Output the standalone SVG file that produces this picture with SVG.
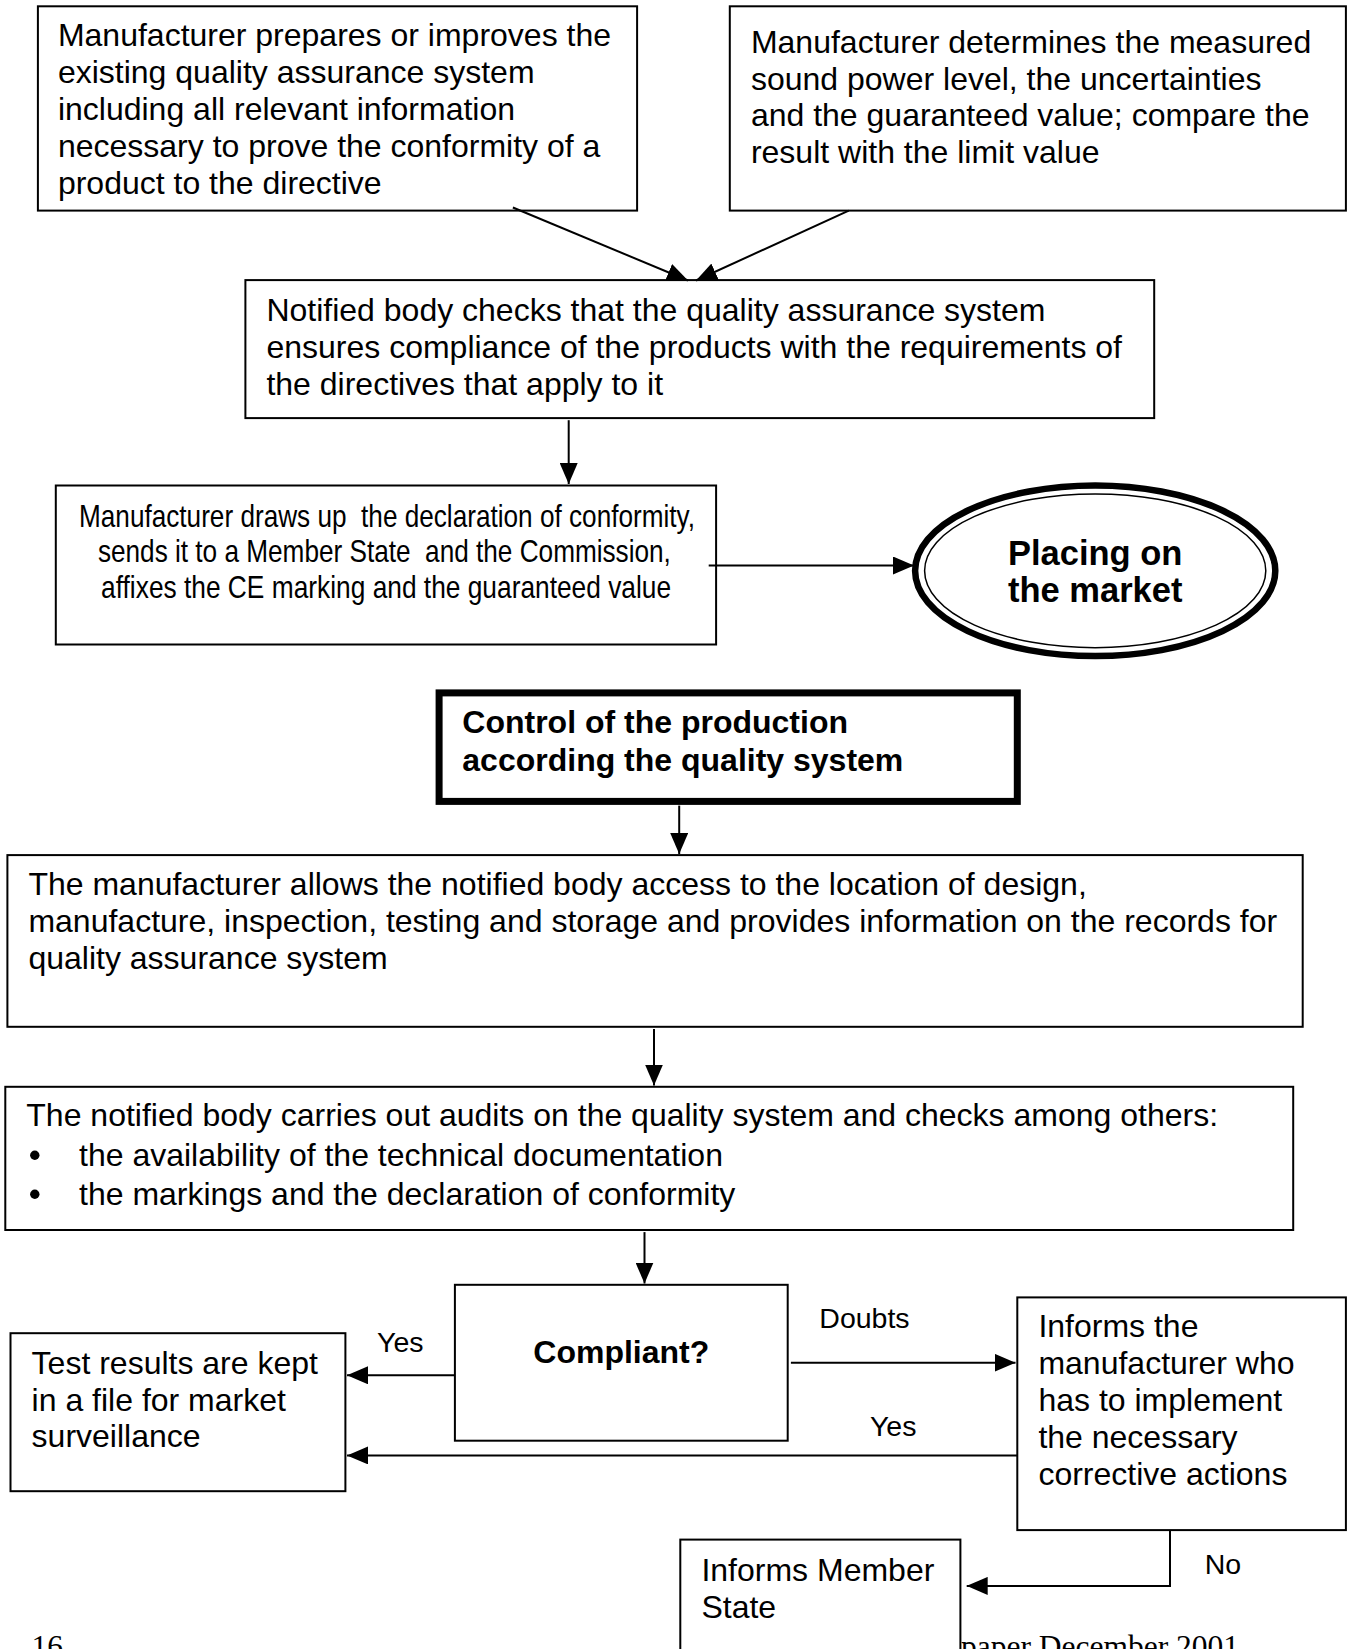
<svg xmlns="http://www.w3.org/2000/svg" width="1348" height="1649" viewBox="0 0 1348 1649">
<style>
.box{fill:#fff;stroke:#000;stroke-width:2}
.t{font-family:"Liberation Sans",Arial,sans-serif;font-size:32px;fill:#000}
.b{font-family:"Liberation Sans",Arial,sans-serif;font-size:32px;font-weight:bold;fill:#000}
.c{font-family:"Liberation Sans",Arial,sans-serif;font-size:31.5px;fill:#000}
.l{font-family:"Liberation Sans",Arial,sans-serif;font-size:28.5px;fill:#000}
.s{font-family:"Liberation Serif","Times New Roman",serif;font-size:31.5px;fill:#000}
.con{stroke:#000;stroke-width:2;fill:none}
</style>
<defs>
<marker id="ah" markerUnits="userSpaceOnUse" markerWidth="21" markerHeight="18" refX="21" refY="9" orient="auto">
<path d="M0,0 L21,9 L0,18 z" fill="#000"/>
</marker>
</defs>
<rect width="1348" height="1649" fill="#fff"/>
<g id="footer">
<text class="s" x="31.6" y="1657">16</text>
<text class="s" x="961" y="1657">paper December 2001</text>
</g>
<g id="n1">
<rect class="box" x="37.9" y="6.3" width="599.2" height="204.3"/>
<text class="t" x="57.9" y="46.3">Manufacturer prepares or improves the</text>
<text class="t" x="57.9" y="83.2">existing quality assurance system</text>
<text class="t" x="57.9" y="120.1">including all relevant information</text>
<text class="t" x="57.9" y="156.9">necessary to prove the conformity of a</text>
<text class="t" x="57.9" y="193.8">product to the directive</text>
</g>
<g id="n2">
<rect class="box" x="729.8" y="6.3" width="616.1" height="204.3"/>
<text class="t" x="750.9" y="52.7">Manufacturer determines the measured</text>
<text class="t" x="750.9" y="89.5">sound power level, the uncertainties</text>
<text class="t" x="750.9" y="126.4">and the guaranteed value; compare the</text>
<text class="t" x="750.9" y="163.2">result with the limit value</text>
</g>
<g id="n3">
<rect class="box" x="245.4" y="280.1" width="908.8" height="138"/>
<text class="t" x="266.4" y="321.2">Notified body checks that the quality assurance system</text>
<text class="t" x="266.4" y="358.1">ensures compliance of the products with the requirements of</text>
<text class="t" x="266.4" y="394.9">the directives that apply to it</text>
</g>
<g id="n4">
<rect class="box" x="55.8" y="485.5" width="660.3" height="159"/>
<text class="c" x="79" y="526.6" xml:space="preserve" textLength="616" lengthAdjust="spacingAndGlyphs">Manufacturer draws up  the declaration of conformity,</text>
<text class="c" x="97.9" y="562.4" xml:space="preserve" textLength="573" lengthAdjust="spacingAndGlyphs">sends it to a Member State  and the Commission,</text>
<text class="c" x="101.1" y="598.2" textLength="570" lengthAdjust="spacingAndGlyphs">affixes the CE marking and the guaranteed value</text>
</g>
<g id="n5">
<ellipse cx="1095.2" cy="570.8" rx="180.1" ry="85.3" fill="#fff" stroke="#000" stroke-width="6.5"/>
<ellipse cx="1095.2" cy="570.8" rx="170.6" ry="76.9" fill="none" stroke="#000" stroke-width="1.5"/>
<text class="b" x="1095.2" y="564.5" text-anchor="middle" style="font-size:34.5px">Placing on</text>
<text class="b" x="1095.2" y="602.4" text-anchor="middle" style="font-size:34.5px">the market</text>
</g>
<g id="n6">
<rect x="439.1" y="692.9" width="578.2" height="108.5" fill="#fff" stroke="#000" stroke-width="7"/>
<text class="b" x="462.3" y="733">Control of the production</text>
<text class="b" x="462.3" y="770.9">according the quality system</text>
</g>
<g id="n7">
<rect class="box" x="7.4" y="855.1" width="1295.3" height="171.7"/>
<text class="t" x="28.4" y="895.1">The manufacturer allows the notified body access to the location of design,</text>
<text class="t" x="28.4" y="932">manufacture, inspection, testing and storage and provides information on the records for</text>
<text class="t" x="28.4" y="968.9">quality assurance system</text>
</g>
<g id="n8">
<rect class="box" x="5.3" y="1086.8" width="1287.9" height="143.2"/>
<text class="t" x="26.3" y="1125.8">The notified body carries out audits on the quality system and checks among others:</text>
<circle cx="34.8" cy="1155.3" r="4.7" fill="#000"/>
<text class="t" x="79" y="1165.8">the availability of the technical documentation</text>
<circle cx="34.8" cy="1194.2" r="4.7" fill="#000"/>
<text class="t" x="79" y="1204.7">the markings and the declaration of conformity</text>
</g>
<g id="n9">
<rect class="box" x="454.9" y="1284.8" width="332.8" height="155.9"/>
<text class="b" x="621.3" y="1362.7" text-anchor="middle">Compliant?</text>
</g>
<g id="n10">
<rect class="box" x="10.5" y="1333.2" width="334.9" height="158"/>
<text class="t" x="31.6" y="1374.3">Test results are kept</text>
<text class="t" x="31.6" y="1411.2">in a file for market</text>
<text class="t" x="31.6" y="1447">surveillance</text>
</g>
<g id="n11">
<rect class="box" x="1017.3" y="1297.4" width="328.6" height="232.7"/>
<text class="t" x="1038.4" y="1337.4">Informs the</text>
<text class="t" x="1038.4" y="1374.3">manufacturer who</text>
<text class="t" x="1038.4" y="1411.2">has to implement</text>
<text class="t" x="1038.4" y="1448">the necessary</text>
<text class="t" x="1038.4" y="1484.9">corrective actions</text>
</g>
<g id="n12">
<rect class="box" x="680.3" y="1539.6" width="280.1" height="130"/>
<text class="t" x="701.4" y="1580.7">Informs Member</text>
<text class="t" x="701.4" y="1617.6">State</text>
</g>
<g id="connectors">
<line class="con" x1="512.9" y1="207.5" x2="688" y2="280.5" marker-end="url(#ah)"/>
<line class="con" x1="848.8" y1="210.6" x2="696" y2="280.5" marker-end="url(#ah)"/>
<line class="con" x1="568.7" y1="420.2" x2="568.7" y2="484" marker-end="url(#ah)"/>
<line class="con" x1="708.7" y1="565.5" x2="914" y2="565.5" marker-end="url(#ah)"/>
<line class="con" x1="679.2" y1="805.6" x2="679.2" y2="854" marker-end="url(#ah)"/>
<line class="con" x1="654" y1="1028.9" x2="654" y2="1085.5" marker-end="url(#ah)"/>
<line class="con" x1="644.5" y1="1232.1" x2="644.5" y2="1283.5" marker-end="url(#ah)"/>
<line class="con" x1="454.9" y1="1375.3" x2="347" y2="1375.3" marker-end="url(#ah)"/>
<line class="con" x1="790.9" y1="1362.7" x2="1015.5" y2="1362.7" marker-end="url(#ah)"/>
<line class="con" x1="1017.3" y1="1455.4" x2="347" y2="1455.4" marker-end="url(#ah)"/>
<polyline class="con" points="1170,1531 1170,1585.9 966.7,1585.9" marker-end="url(#ah)"/>
<text class="l" x="377" y="1352.2">Yes</text>
<text class="l" x="819.3" y="1328">Doubts</text>
<text class="l" x="869.9" y="1436.4">Yes</text>
<text class="l" x="1204.7" y="1574.4">No</text>
</g>
</svg>
